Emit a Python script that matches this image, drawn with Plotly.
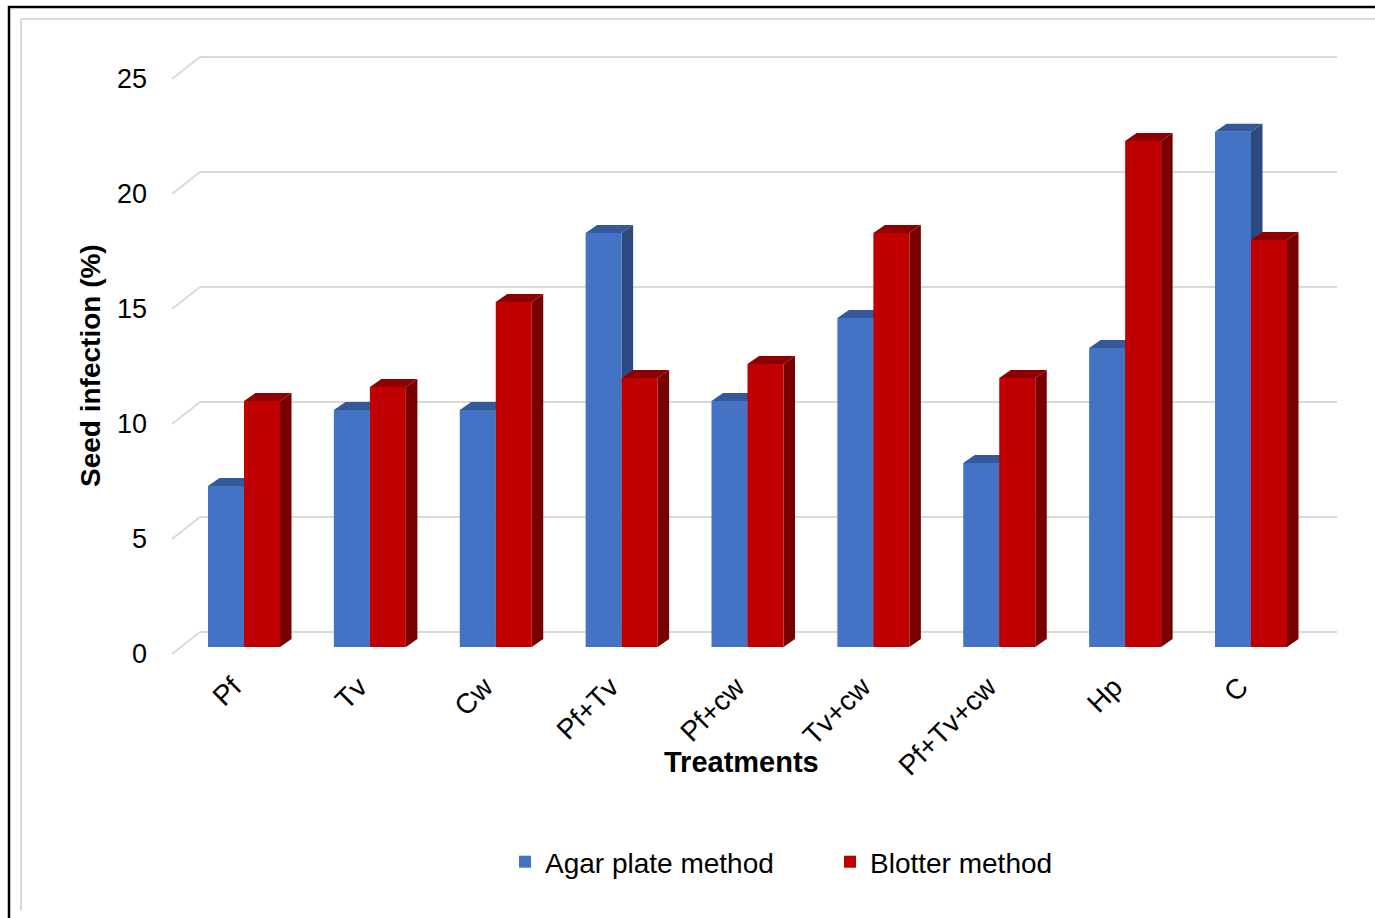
import plotly.graph_objects as go

# ---------------- data ----------------
categories = ["Pf", "Tv", "Cw", "Pf+Tv", "Pf+cw", "Tv+cw", "Pf+Tv+cw", "Hp", "C"]
agar_plate = [7.0, 10.3, 10.3, 18.0, 10.7, 14.3, 8.0, 13.0, 22.4]
blotter = [10.7, 11.3, 15.0, 11.7, 12.3, 18.0, 11.7, 22.0, 17.7]
series_names = ["Agar plate method", "Blotter method"]
y_ticks = [0, 5, 10, 15, 20, 25]

# ---------------- geometry (pixels) ----------------
W, H = 1375, 918
PL, PR, PT, PB = 165, 1340, 40, 660      # plot area edges
X0, XS = 244.0, 125.875                    # pixel of category 0, px per category
Y0, YS = 647.0, 23.0                       # pixel of value 0 (bar plane), px per unit
BAR_PX = 36.0                              # bar width px
DEPTH_DX, DEPTH_DY = 11.5, 8.0             # bar depth projection px
FRONT_DROP = 7                             # front floor edge below bar baseline px
WALL_DX, WALL_DY = 28.0, 22.0              # floor depth to back wall px
WALL_LEFT_PX, WALL_RIGHT_PX, FRONT_LEFT_PX = 200.0, 1337.0, 172.0

def dx(px):
    return (px - X0) / XS

def dy(py):
    return (Y0 - py) / YS

xr = [dx(PL), dx(PR)]
yr = [dy(PB), dy(PT)]

def paper_x(px):
    return (px - PL) / (PR - PL)

def paper_y(py):
    return (PB - py) / (PB - PT)

colors = {
    "front": ["#4472C4", "#C00000"],
    "top": ["#34589A", "#8E0000"],
    "side": ["#2C4A80", "#780000"],
}

BW = BAR_PX / XS
DDX = DEPTH_DX / XS
DDY = DEPTH_DY / YS

fig = go.Figure()
series = [agar_plate, blotter]
offsets = [-BW, 0.0]
xs = list(range(len(categories)))
for k, vals in enumerate(series):
    fig.add_trace(go.Bar(
        x=xs, y=vals, name=series_names[k],
        width=BW, offset=offsets[k],
        marker=dict(color=colors["front"][k], line=dict(width=0)),
        hoverinfo="x+y",
    ))

shapes = []
# frame: outer black border and inner grey border (bottom/right edges cropped in the source)
shapes.append(dict(type="rect", xref="paper", yref="paper",
                   x0=paper_x(9), x1=paper_x(1400), y0=paper_y(7), y1=paper_y(940),
                   line=dict(color="black", width=2.5), fillcolor="rgba(0,0,0,0)", layer="below"))
shapes.append(dict(type="line", xref="paper", yref="paper",
                   x0=paper_x(21), x1=paper_x(21), y0=paper_y(19), y1=paper_y(911),
                   line=dict(color="#D9D9D9", width=2), layer="below"))
shapes.append(dict(type="line", xref="paper", yref="paper",
                   x0=paper_x(21), x1=paper_x(1400), y0=paper_y(19), y1=paper_y(19),
                   line=dict(color="#D9D9D9", width=2), layer="below"))

# gridlines: back wall + floor diagonal
for t in y_ticks:
    yb = t + (WALL_DY - FRONT_DROP) / YS
    yf = t - FRONT_DROP / YS
    shapes.append(dict(type="line", xref="x", yref="y",
                       x0=dx(FRONT_LEFT_PX), y0=yf, x1=dx(WALL_LEFT_PX), y1=yb,
                       line=dict(color="#D9D9D9", width=2), layer="below"))
    shapes.append(dict(type="line", xref="x", yref="y",
                       x0=dx(WALL_LEFT_PX), y0=yb, x1=dx(WALL_RIGHT_PX), y1=yb,
                       line=dict(color="#D9D9D9", width=2), layer="below"))

# 3D faces of bars
for k, vals in enumerate(series):
    for i, v in enumerate(vals):
        left = i + offsets[k]
        right = left + BW
        top = (f"M{left},{v} L{left + DDX},{v + DDY} L{right + DDX},{v + DDY} L{right},{v} Z")
        side = (f"M{right},0 L{right + DDX},{DDY} L{right + DDX},{v + DDY} L{right},{v} Z")
        shapes.append(dict(type="path", xref="x", yref="y", path=side,
                           fillcolor=colors["side"][k], line=dict(width=0), layer="below"))
        shapes.append(dict(type="path", xref="x", yref="y", path=top,
                           fillcolor=colors["top"][k], line=dict(width=0), layer="below"))

FONT = "Liberation Sans, Arial, sans-serif"

annotations = [
    dict(text="<b>Treatments</b>", xref="paper", yref="paper",
         x=paper_x(741), y=paper_y(762), xanchor="center", yanchor="middle",
         showarrow=False, font=dict(size=29, color="black", family=FONT)),
    dict(text="<b>Seed infection (%)</b>", xref="paper", yref="paper",
         x=paper_x(90), y=paper_y(366), xanchor="center", yanchor="middle",
         textangle=-90, showarrow=False, font=dict(size=28, color="black", family=FONT)),
]

fig.update_layout(
    width=W, height=H,
    margin=dict(l=PL, r=W - PR, t=PT, b=H - PB, autoexpand=False),
    paper_bgcolor="white", plot_bgcolor="white",
    font=dict(family=FONT, color="black", size=28),
    barmode="overlay",
    shapes=shapes,
    annotations=annotations,
    showlegend=True,
    legend=dict(orientation="h", x=paper_x(830), y=paper_y(862),
                xanchor="center", yanchor="middle",
                font=dict(size=28, family=FONT, color="black"),
                entrywidth=280, bgcolor="rgba(0,0,0,0)"),
)
fig.update_xaxes(
    range=xr, tickmode="array", tickvals=xs, ticktext=categories,
    tickangle=-45, showgrid=False, zeroline=False, showline=False, ticks="",
    ticklabelshift=-11, ticklabelstandoff=4,
    tickfont=dict(size=28, family=FONT, color="black"), fixedrange=True,
)
fig.update_yaxes(
    range=yr, tickmode="array", tickvals=y_ticks, ticktext=[str(t) for t in y_ticks],
    showgrid=False, zeroline=False, showline=False, ticks="",
    ticklabelshift=FRONT_DROP, ticklabelstandoff=17,
    tickfont=dict(size=27, family=FONT, color="black"), fixedrange=True,
)

fig.write_html("out.html", config={"displayModeBar": False},
               post_script="document.body.style.margin='0';")
